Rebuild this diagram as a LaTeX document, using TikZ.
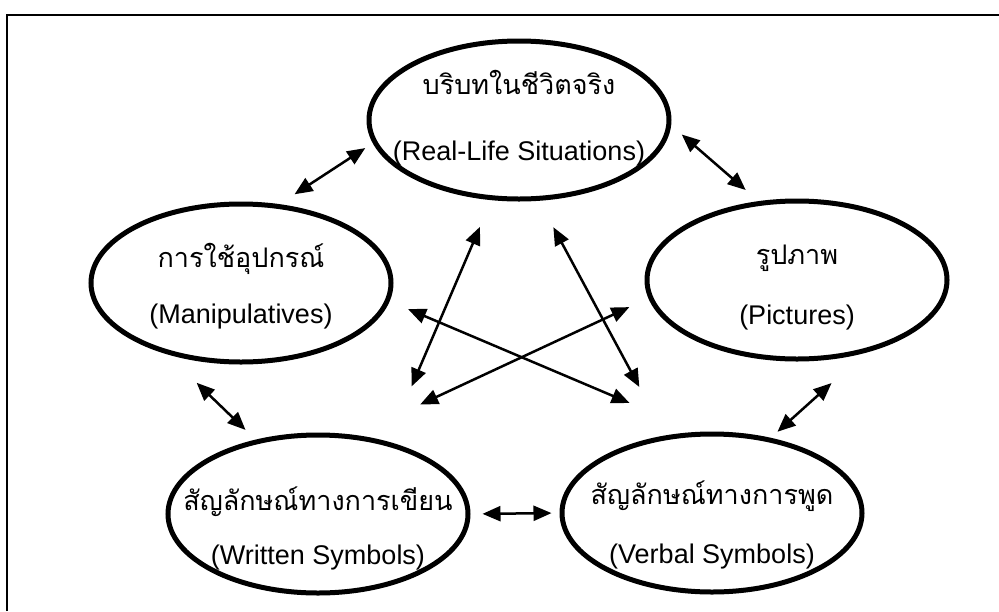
\documentclass[tikz,border=0pt]{standalone}
\usepackage{fontspec}
\setmainfont{Liberation Sans}
\newfontfamily\thaifont[Script=Thai]{Loma}
\usepackage{tikz}
\usetikzlibrary{arrows.meta,shapes.geometric}

\tikzset{
    blob/.style={draw, ellipse, line width=5pt, minimum width=300pt, minimum height=158pt,
        inner sep=0pt, font=\fontsize{27}{30}\selectfont},
    link/.style={{Triangle[length=18pt,width=15pt]}-{Triangle[length=18pt,width=15pt]}, line width=2.5pt},
}
\newcommand{\thai}[1]{{\thaifont\fontsize{27}{30}\selectfont #1}}
\newcommand{\twolines}[4][0pt]{\makebox[0pt]{\raisebox{#1}[0pt][0pt]{%
    \begin{tabular}{@{}c@{}}\thai{#3}\\[#2]#4\end{tabular}}}}

\begin{document}
\begin{tikzpicture}[x=1pt, y=-1pt]
    \useasboundingbox (0,0) rectangle (999,611);
    \draw[line width=2.5pt] (7,611) -- (7,15) -- (999,15);

    \node[blob] (real)  at (519,120) {\twolines[-6pt]{36pt}{บริบทในชีวิตจริง}{(Real-Life Situations)}};
    \node[blob] (manip) at (241,283) {\twolines[-11pt]{26pt}{การใช้อุปกรณ์}{(Manipulatives)}};
    \node[blob] (pict)  at (797,280) {\twolines[-15pt]{30pt}{รูปภาพ}{(Pictures)}};
    \node[blob] (writ)  at (318,514) {\twolines[-22pt]{24pt}{สัญลักษณ์ทางการเขียน}{(Written Symbols)}};
    \node[blob] (verb)  at (712,513) {\twolines[-20pt]{29pt}{สัญลักษณ์ทางการพูด}{(Verbal Symbols)}};

    % around the ring
    \draw[link, shorten <=9pt,  shorten >=18pt] (real.189)  -- (manip.64);
    \draw[link, shorten <=14pt, shorten >=17pt] (real.358)  -- (pict.116);
    \draw[link, shorten <=41pt, shorten >=14pt] (manip.224) -- (writ.130);
    \draw[link, shorten <=45pt, shorten >=9pt]  (pict.313)  -- (verb.52);
    \draw[link, shorten <=12pt, shorten >=8pt]  (writ.0)    -- (verb.180);

    % across the middle
    \draw[link, shorten <=29pt, shorten >=60pt] (real.251)  -- (writ.46);
    \draw[link, shorten <=30pt, shorten >=55pt] (real.284)  -- (verb.121);
    \draw[link, shorten <=20pt, shorten >=74pt] (manip.353) -- (verb.100);
    \draw[link, shorten <=21pt, shorten >=72pt] (pict.187)  -- (writ.65);
\end{tikzpicture}
\end{document}
